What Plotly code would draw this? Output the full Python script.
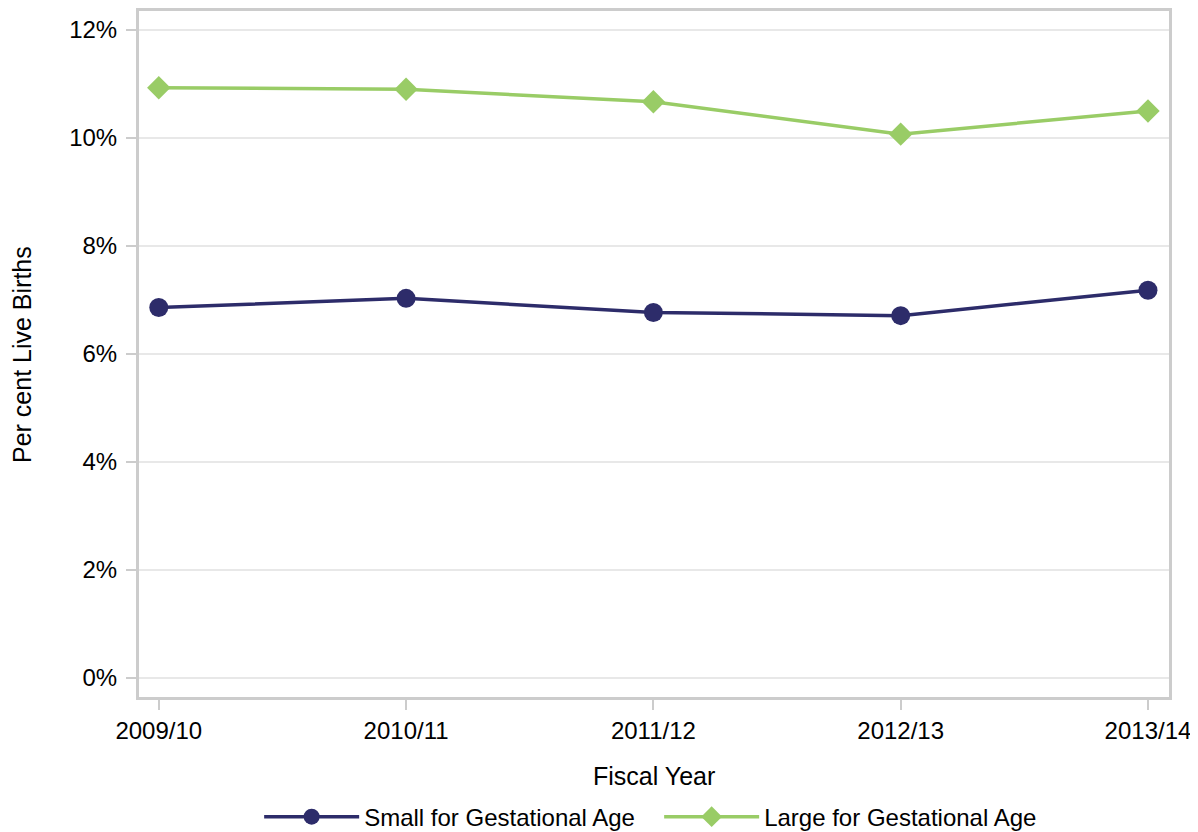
import plotly.graph_objects as go

years = ["2009/10", "2010/11", "2011/12", "2012/13", "2013/14"]
small_ga = [6.86, 7.03, 6.77, 6.71, 7.18]
large_ga = [10.93, 10.90, 10.67, 10.07, 10.50]
y_ticks = [0, 2, 4, 6, 8, 10, 12]
y_ticklabels = [f"{v}%" for v in y_ticks]

navy = "#2D2C6A"
green = "#99CC66"

fig = go.Figure()
fig.add_trace(go.Scatter(x=years, y=small_ga, mode="lines+markers", name="Small for Gestational Age",
                         line=dict(color=navy, width=3.5), marker=dict(symbol="circle", size=19, color=navy)))
fig.add_trace(go.Scatter(x=years, y=large_ga, mode="lines+markers", name="Large for Gestational Age",
                         line=dict(color=green, width=3.5), marker=dict(symbol="diamond", size=18, color=green)))

font = "Liberation Sans, Arial, sans-serif"
W, H = 1190, 824
fig.update_layout(
    width=W, height=H,
    margin=dict(l=131, r=29, t=3, b=135, autoexpand=False),
    paper_bgcolor="white", plot_bgcolor="white",
    font=dict(family=font, size=24, color="black"),
    showlegend=True,
    legend=dict(orientation="h", x=0.505, xanchor="center", y=-0.175, yanchor="middle",
                font=dict(size=24), itemwidth=95, entrywidth=290),
    annotations=[
        dict(text="Fiscal Year", xref="paper", yref="paper", x=0.5, y=-0.115,
             xanchor="center", yanchor="middle", showarrow=False, font=dict(size=25)),
        dict(text="Per cent Live Births", xref="paper", yref="paper", x=-0.1136, y=0.5,
             xanchor="center", yanchor="middle", showarrow=False, textangle=-90, font=dict(size=25)),
    ],
)
fig.update_xaxes(type="category", range=[-0.08, 4.085], showgrid=False, automargin=False,
                 showline=True, linecolor="#cccccc", linewidth=3, mirror=True,
                 ticks="outside", ticklen=10, tickcolor="#cccccc", tickwidth=2,
                 tickfont=dict(size=24))
fig.update_yaxes(range=[-0.35, 12.35], tickvals=y_ticks, ticktext=y_ticklabels, automargin=False,
                 showgrid=True, gridcolor="#e8e8e8", gridwidth=2, zeroline=False,
                 showline=True, linecolor="#cccccc", linewidth=3, mirror=True,
                 ticks="outside", ticklen=10, tickcolor="#cccccc", tickwidth=2,
                 ticklabelstandoff=4, tickfont=dict(size=24))

fig.write_html("out.html")
